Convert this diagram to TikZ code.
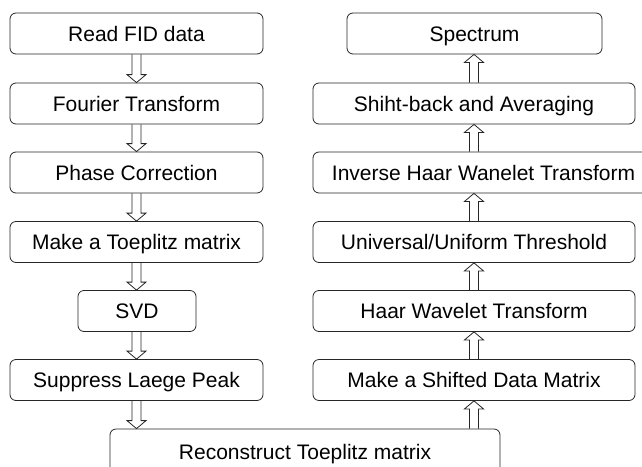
\documentclass[tikz,border=0pt]{standalone}
\usepackage{fontspec}
\setmainfont{Liberation Sans}
\usetikzlibrary{positioning,calc}
\tikzset{
  stage/.style={
    rectangle, draw=black!85, rounded corners=6pt,
    line width=0.8pt,
    minimum width=253pt,
    minimum height=41pt,
    inner sep=0pt,
    text height=15pt, text depth=0pt,
    font=\fontsize{21}{25}\selectfont
  },
  % frecce doppie vuote
  flow/.style={line width=0.8pt, draw=black!85}
}
% freccia vuota: #1 partenza, #2 punta, #3 = 1 giu, -1 su
\newcommand{\flowarrow}[3]{%
  \draw[flow] ($(#1)+(-4.5,0)$) -- ($(#2)+(-4.5,{-8*#3})$) -- ($(#2)+(-9.5,{-8*#3})$)
    -- (#2) -- ($(#2)+(9.5,{-8*#3})$) -- ($(#2)+(4.5,{-8*#3})$) -- ($(#1)+(4.5,0)$);}

\begin{document}
\begin{tikzpicture}[x=1pt,y=-1pt]
\useasboundingbox (0,0) rectangle (642,466);

% Colonna sinistra
\node[stage] (read) at (136.5,33.5) {Read FID data};
\node[stage] (fourier) at (136.5,103.5) {Fourier Transform};
\node[stage] (phase) at (136.5,172.5) {Phase Correction};
\node[stage] (toeplitz) at (136.5,242) {Make a Toeplitz matrix};
\node[stage, minimum width=118pt] (svd) at (137,311) {SVD};
\node[stage] (suppress) at (136.5,380) {Suppress Laege Peak};

% Blocco in basso
\node[stage, minimum width=390pt, minimum height=45pt] (reconstruct) at (305,451.5) {Reconstruct Toeplitz matrix};

% Colonna destra
\node[stage, minimum width=322pt] (shifted) at (474,380) {Make a Shifted Data Matrix};
\node[stage, minimum width=322pt] (haar) at (474,311) {Haar Wavelet Transform};
\node[stage, minimum width=322pt] (threshold) at (474,242) {Universal/Uniform Threshold};
\node[stage, minimum width=341pt] (inverse) at (483.5,172.5) {Inverse Haar Wanelet Transform};
\node[stage, minimum width=322pt] (shiftback) at (474,103.5) {Shiht-back and Averaging};
\node[stage, minimum width=255pt] (spectrum) at (474.5,33.5) {Spectrum};

% Frecce verso il basso
\flowarrow{read.south}{fourier.north}{1}
\flowarrow{fourier.south}{phase.north}{1}
\flowarrow{phase.south}{toeplitz.north}{1}
\flowarrow{toeplitz.south}{toeplitz.south |- svd.north}{1}
\flowarrow{toeplitz.south |- svd.south}{toeplitz.south |- suppress.north}{1}
\flowarrow{suppress.south}{suppress.south |- reconstruct.north}{1}

% Frecce verso l'alto
\flowarrow{shifted.south |- reconstruct.north}{shifted.south}{-1}
\flowarrow{shifted.north}{haar.south}{-1}
\flowarrow{haar.north}{threshold.south}{-1}
\flowarrow{threshold.north}{threshold.north |- inverse.south}{-1}
\flowarrow{threshold.north |- inverse.north}{shiftback.south}{-1}
\flowarrow{shiftback.north}{shiftback.north |- spectrum.south}{-1}

\end{tikzpicture}
\end{document}
